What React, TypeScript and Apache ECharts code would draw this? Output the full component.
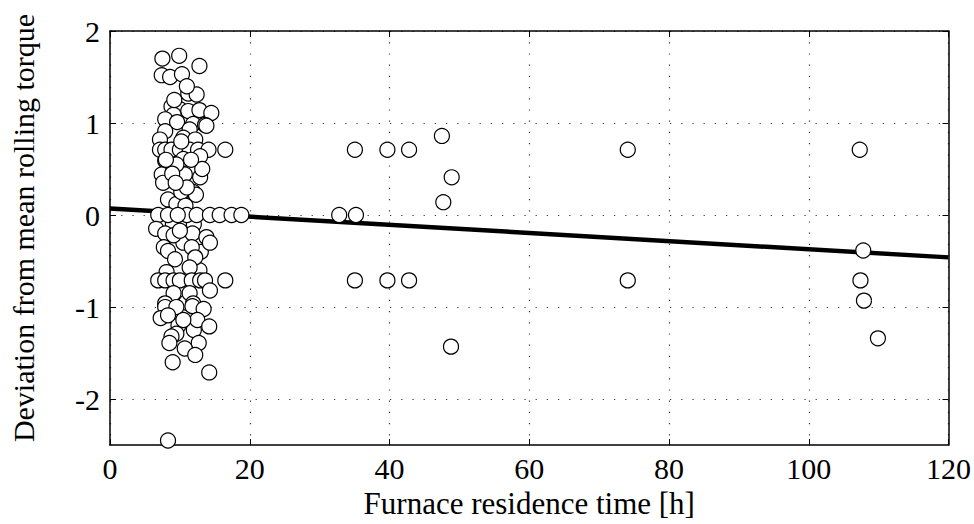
import React, { useEffect, useRef } from "react";
import * as echarts from "echarts";

// Furnace residence time [h] and deviation for each observation
const residenceTime: number[] = [
  // top part of cluster
  7.5, 9.9, 12.8, 7.4, 8.6, 10.3, 11.2, 12.4, 8.8, 10.0, 11.2, 12.8, 14.5, 9.1, 7.9, 9.6, 11.9, 13.6,
  7.9, 11.4, 13.8, 10.5, 7.15, 12.2,
  // 0.7 row
  7.15, 7.9, 8.8, 10.0, 11.4, 12.6, 14.1, 16.5,
  7.9, 10.5, 12.9, 7.4, 10.7, 12.9, 7.6, 11.9, 8.3, 9.5, 12.3, 10.2,
  // filling of the cluster
  9.5, 11.0, 12.0, 10.5, 9.0, 10.8, 12.8, 13.2, 9.2, 11.6, 8.9, 10.9, 12.0, 9.8, 11.0, 10.2, 8.0, 13.0, 11.8, 9.4,
  // 0 row
  6.9, 8.3, 11.0, 12.4, 14.3, 15.7, 17.4, 18.8, 9.7,
  // below zero
  6.6, 7.9, 9.1, 10.0, 13.8, 14.3, 11.7, 7.7, 8.3, 9.3, 12.2, 11.4, 8.1,
  // -0.7 row
  6.9, 7.9, 9.1, 10.0, 11.7, 12.9, 13.6, 16.5,
  9.1, 11.4, 14.3, 7.9, 11.9, 7.9, 9.5, 11.8, 13.4,
  7.25, 8.3, 12.5, 14.2, 10.5, 9.5, 8.8, 8.5, 12.7, 10.7, 12.2, 8.97, 14.2,
  8.3,
  // outliers
  32.8, 35.2, 35.05, 39.7, 42.8, 47.5, 48.9, 47.7, 48.8, 35.05, 39.7, 42.8,
  74.1, 74.1,
  107.3, 107.8, 107.4, 107.9, 109.9,
];
const deviation: number[] = [
  1.70, 1.73, 1.62, 1.52, 1.50, 1.53, 1.32, 1.31, 1.18, 1.15, 1.13, 1.14, 1.11, 1.09, 1.04, 1.01, 0.99, 0.98,
  0.91, 0.93, 0.97, 0.84, 0.82, 0.82,
  0.71, 0.71, 0.71, 0.71, 0.71, 0.71, 0.71, 0.71,
  0.59, 0.61, 0.64, 0.44, 0.44, 0.41, 0.35, 0.25, 0.17, 0.12, 0.22, 0.25,
  0.55, 0.30, -0.10, -0.30, -0.10, 0.10, -0.60, 0.50, 1.25, 0.60, 0.45, -0.95, -1.25, -1.20, 1.40, 0.80, 0.60, -0.40, -0.20, 0.35,
  0.0, 0.0, 0.0, 0.0, 0.0, 0.0, 0.0, 0.0, 0.0,
  -0.15, -0.2, -0.22, -0.17, -0.24, -0.3, -0.35, -0.35, -0.39, -0.48, -0.46, -0.57, -0.62,
  -0.71, -0.71, -0.71, -0.71, -0.71, -0.71, -0.71, -0.71,
  -0.85, -0.85, -0.82, -0.96, -0.96, -1.0, -1.0, -0.99, -1.02,
  -1.12, -1.09, -1.14, -1.21, -1.14, -1.29, -1.32, -1.39, -1.39, -1.45, -1.52, -1.60, -1.71,
  -2.45,
  0.0, 0.0, 0.71, 0.71, 0.71, 0.86, 0.41, 0.14, -1.43, -0.71, -0.71, -0.71,
  0.71, -0.71,
  0.71, -0.385, -0.71, -0.93, -1.34,
];
// least-squares fit endpoints
const fitX: number[] = [0, 120];
const fitY: number[] = [0.07, -0.46];

const xTicks: number[] = [0, 20, 40, 60, 80, 100, 120];
const yTicks: number[] = [-2, -1, 0, 1, 2];

const FONT = "Liberation Serif";

export default function App() {
  const ref = useRef<HTMLDivElement>(null);
  useEffect(() => {
    if (!ref.current) return;
    document.body.style.margin = "0";
    const chart = echarts.init(ref.current, undefined, { renderer: "svg" });
    const points = residenceTime.map((x, i) => [x, deviation[i]]);
    const fit = fitX.map((x, i) => [x, fitY[i]]);
    const gridLine = { show: true, lineStyle: { color: "#333", width: 1.2, type: [1.2, 10] as any } };
    const axisLineStyle = { show: true, onZero: false, lineStyle: { color: "#000", width: 1.5 } };
    const tickStyle = { show: true, inside: true, length: 6, lineStyle: { color: "#000", width: 1 } };
    chart.setOption({
      animation: false,
      backgroundColor: "#fff",
      grid: { left: 110, right: 25, top: 31, bottom: 77, containLabel: false },
      graphic: [
        {
          type: "text",
          x: 23,
          y: 228,
          rotation: Math.PI / 2,
          style: {
            text: "Deviation from mean rolling torque",
            fill: "#000",
            font: `30px "${FONT}"`,
            align: "center",
            verticalAlign: "middle",
          },
        },
      ],
      xAxis: [
        {
          type: "value",
          min: 0,
          max: 120,
          interval: 20,
          axisLine: axisLineStyle,
          axisTick: tickStyle,
          splitLine: gridLine,
          axisLabel: {
            color: "#000",
            fontFamily: FONT,
            fontSize: 30,
            margin: 8,
            showMaxLabel: true,
            formatter: (v: number) => (xTicks.includes(v) ? String(v) : ""),
          },
          name: "Furnace residence time [h]",
          nameLocation: "middle",
          nameGap: 42,
          nameTextStyle: { color: "#000", fontFamily: FONT, fontSize: 31 },
        },
        {
          type: "value",
          position: "top",
          min: 0,
          max: 120,
          interval: 20,
          axisLine: axisLineStyle,
          axisTick: tickStyle,
          axisLabel: { show: false },
          splitLine: { show: false },
        },
      ],
      yAxis: [
        {
          type: "value",
          min: -2.5,
          max: 2,
          interval: 1,
          axisLine: axisLineStyle,
          axisTick: { ...tickStyle, customValues: yTicks },
          splitLine: { ...gridLine, customValues: yTicks } as any,
          axisLabel: {
            color: "#000",
            fontFamily: FONT,
            fontSize: 30,
            margin: 10,
            customValues: yTicks,
            formatter: (v: number) => String(v),
          },
        },
        {
          type: "value",
          position: "right",
          min: -2.5,
          max: 2,
          axisLine: axisLineStyle,
          axisTick: { ...tickStyle, customValues: yTicks },
          axisLabel: { show: false },
          splitLine: { show: false },
        },
      ],
      series: [
        {
          type: "line",
          data: fit,
          showSymbol: false,
          lineStyle: { color: "#000", width: 4.5 },
          z: 2,
          silent: true,
        },
        {
          type: "scatter",
          data: points,
          symbol: "circle",
          symbolSize: 15,
          itemStyle: { color: "#fff", borderColor: "#000", borderWidth: 1.2, opacity: 1 },
          z: 3,
        },
      ],
    });
    return () => chart.dispose();
  }, []);
  return <div ref={ref} style={{ width: 974, height: 524 }} />;
}
